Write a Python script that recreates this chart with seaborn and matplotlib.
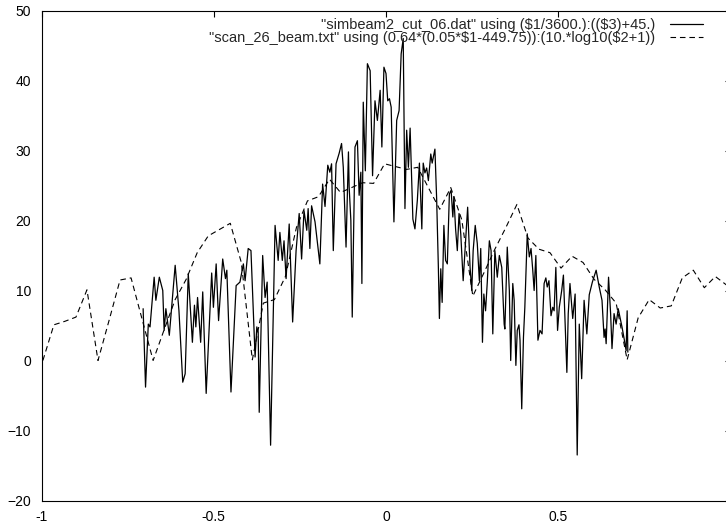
import numpy as np
import pandas as pd
import matplotlib
matplotlib.use("Agg")
import matplotlib.pyplot as plt
import seaborn as sns

# simulated beam cut (degrees, dB)
sim_x = [-0.705, -0.698, -0.690, -0.685, -0.673, -0.668, -0.658, -0.648, -0.644, -0.639,
         -0.629, -0.612, -0.601, -0.590, -0.583, -0.574, -0.562, -0.556, -0.552, -0.547,
         -0.538, -0.532, -0.522, -0.506, -0.501, -0.493, -0.486, -0.474, -0.466, -0.462,
         -0.450, -0.435, -0.424, -0.414, -0.409, -0.400, -0.392, -0.380, -0.375, -0.371,
         -0.368, -0.358, -0.351, -0.345, -0.335, -0.322, -0.313, -0.308, -0.301, -0.296,
         -0.290, -0.281, -0.271, -0.261, -0.252, -0.245, -0.238, -0.230, -0.226, -0.221,
         -0.216, -0.206, -0.192, -0.184, -0.177, -0.169, -0.163, -0.158, -0.153, -0.145,
         -0.136, -0.129, -0.124, -0.116, -0.109, -0.107, -0.102, -0.098, -0.090, -0.083,
         -0.078, -0.073, -0.070, -0.066, -0.060, -0.054, -0.046, -0.039, -0.032, -0.025,
         -0.017, -0.012, -0.006, 0.000, 0.005, 0.010, 0.015, 0.023, 0.031, 0.038,
         0.044, 0.050, 0.055, 0.060, 0.065, 0.070, 0.078, 0.084, 0.091, 0.097,
         0.104, 0.108, 0.113, 0.118, 0.123, 0.130, 0.134, 0.142, 0.147, 0.152,
         0.155, 0.159, 0.163, 0.168, 0.173, 0.178, 0.184, 0.189, 0.194, 0.197,
         0.202, 0.207, 0.212, 0.217, 0.224, 0.231, 0.237, 0.244, 0.249, 0.253,
         0.259, 0.265, 0.271, 0.275, 0.280, 0.284, 0.289, 0.294, 0.300, 0.305,
         0.310, 0.316, 0.323, 0.329, 0.336, 0.343, 0.345, 0.352, 0.358, 0.362,
         0.368, 0.372, 0.377, 0.381, 0.386, 0.389, 0.394, 0.399, 0.403, 0.410,
         0.416, 0.421, 0.426, 0.430, 0.435, 0.441, 0.447, 0.453, 0.459, 0.464,
         0.468, 0.473, 0.479, 0.484, 0.488, 0.493, 0.498, 0.503, 0.510, 0.515,
         0.520, 0.525, 0.529, 0.534, 0.542, 0.549, 0.555, 0.561, 0.568, 0.575,
         0.583, 0.590, 0.599, 0.610, 0.619, 0.627, 0.633, 0.636, 0.639, 0.646,
         0.652, 0.656, 0.662, 0.668, 0.674, 0.679, 0.685, 0.692, 0.697, 0.700,
         0.702]
sim_y = [7.4, -3.8, 5.2, 4.8, 11.9, 8.6, 11.9, 10.0, 4.3, 7.4,
         3.6, 13.6, 7.1, -3.1, -1.9, 12.4, 2.6, 7.9, 4.8, 9.0,
         2.6, 9.8, -4.7, 12.5, 7.6, 13.8, 5.7, 14.5, 11.7, 12.9,
         -4.5, 10.7, 11.2, 13.8, 11.4, 16.0, 15.7, 0.5, 4.8, 4.0,
         -7.4, 15.0, 9.0, 11.2, -12.1, 19.3, 14.3, 18.3, 14.3, 17.1,
         11.7, 19.5, 5.5, 15.7, 21.0, 14.5, 21.4, 18.6, 21.7, 16.0,
         22.1, 19.8, 13.8, 25.2, 22.0, 27.9, 26.9, 28.1, 15.7, 28.1,
         29.6, 31.0, 27.6, 16.2, 29.8, 24.8, 20.0, 6.2, 30.5, 31.4,
         23.6, 26.9, 11.0, 36.9, 27.1, 42.4, 41.4, 26.4, 37.1, 34.3,
         38.6, 30.5, 41.9, 41.0, 37.1, 37.4, 36.2, 19.8, 34.3, 35.7,
         43.8, 46.0, 21.7, 32.9, 27.6, 33.2, 20.2, 18.8, 22.9, 28.2,
         18.8, 28.2, 26.8, 27.5, 25.7, 29.5, 28.2, 30.2, 23.1, 13.3,
         6.0, 13.1, 8.3, 19.3, 14.3, 13.8, 23.8, 24.3, 20.5, 23.4,
         18.8, 15.7, 21.0, 18.1, 11.4, 17.1, 21.9, 13.3, 10.0, 15.7,
         19.3, 16.7, 11.4, 16.0, 2.6, 9.5, 7.1, 11.2, 17.1, 15.7,
         3.8, 15.7, 11.9, 15.0, 13.3, 5.2, 4.5, 16.2, 10.0, 0.0,
         11.0, 8.6, -0.7, 4.3, 5.1, 2.9, -6.9, 3.3, 7.6, 18.1,
         14.8, 16.0, 12.9, 10.0, 15.0, 2.9, 4.3, 3.8, 11.0, 11.8,
         10.5, 11.4, 6.4, 7.6, 7.1, 13.3, 4.3, 7.6, 10.0, 12.2,
         5.2, -1.7, 6.7, 11.0, 6.0, 9.5, -13.5, 5.2, -2.6, 8.6,
         3.8, 9.4, 11.2, 12.9, 10.5, 8.6, 3.3, 4.5, 2.4, 11.9,
         6.7, 1.7, 6.7, 5.2, 7.4, 6.2, 4.8, 2.9, 1.4, 7.1,
         1.2]

# measured scan (degrees, dB)
scan_x = [-0.996, -0.964, -0.932, -0.900, -0.868, -0.836, -0.804, -0.772, -0.740, -0.708,
          -0.676, -0.644, -0.612, -0.580, -0.548, -0.516, -0.484, -0.452, -0.420, -0.388,
          -0.356, -0.324, -0.292, -0.260, -0.228, -0.196, -0.164, -0.132, -0.100, -0.068,
          -0.036, -0.004, 0.028, 0.060, 0.092, 0.124, 0.156, 0.188, 0.220, 0.252,
          0.284, 0.316, 0.348, 0.380, 0.412, 0.444, 0.476, 0.508, 0.540, 0.572,
          0.604, 0.636, 0.668, 0.700, 0.732, 0.764, 0.796, 0.828, 0.860, 0.892,
          0.924, 0.956, 0.988]
scan_y = [0.0, 5.1, 5.6, 6.2, 10.1, 0.0, 5.7, 11.5, 11.8, 5.9,
          0.0, 4.4, 8.7, 11.6, 15.4, 17.8, 18.7, 19.6, 14.0, 0.1,
          8.2, 8.7, 12.0, 19.0, 22.8, 23.4, 25.9, 24.0, 24.7, 25.4,
          25.3, 28.1, 27.7, 27.3, 27.6, 24.6, 21.6, 24.7, 20.1, 9.2,
          12.5, 15.9, 19.0, 22.3, 17.5, 15.9, 15.4, 13.2, 14.9, 14.0,
          11.6, 10.1, 8.2, 0.1, 6.1, 8.7, 7.5, 7.8, 11.8, 12.9,
          10.4, 12.0, 10.8]

x_ticks = [-1, -0.5, 0, 0.5, 1]
x_ticklabels = ["-1", "-0.5", "0", "0.5", ""]  # "1" falls outside the cropped image
y_ticks = [-20, -10, 0, 10, 20, 30, 40, 50]

sim_label = '"simbeam2_cut_06.dat" using (\\$1/3600.):((\\$3)+45.)'
scan_label = '"scan_26_beam.txt" using (0.64*(0.05*\\$1-449.75)):(10.*log10(\\$2+1))'

sim = pd.DataFrame({"x": sim_x, "y": sim_y})
scan = pd.DataFrame({"x": scan_x, "y": scan_y})

sns.set_style("white")
plt.rcParams["font.family"] = ["Liberation Sans", "DejaVu Sans"]
plt.rcParams["font.size"] = 10

fig = plt.figure(figsize=(7.26, 5.24), dpi=100)
# right spine sits just past the image edge, as in the reference
ax = fig.add_axes([41.5 / 726, 23.5 / 524, 689 / 726, 490 / 524])

sns.lineplot(data=sim, x="x", y="y", ax=ax, color="black", lw=0.9,
             estimator=None, sort=False, label=sim_label)
sns.lineplot(data=scan, x="x", y="y", ax=ax, color="black", lw=0.8,
             estimator=None, sort=False, label=scan_label)
ax.lines[1].set_dashes((5, 3.5))

ax.set_xlim(-1, 1)
ax.set_ylim(-20, 50)
ax.set_xticks(x_ticks)
ax.set_xticklabels(x_ticklabels)
ax.set_yticks(y_ticks)
ax.set_xlabel("")
ax.set_ylabel("")
ax.tick_params(direction="in", length=4, width=0.8, top=True, right=True,
               colors="black", labelsize=10)
ax.tick_params(axis="x", pad=6.5)
ax.tick_params(axis="y", pad=7.5)
for s in ax.spines.values():
    s.set_color("black")
    s.set_linewidth(0.8)

leg = ax.legend(loc="upper right", bbox_to_anchor=(0.970, 0.999), frameon=False,
                markerfirst=False, borderpad=0, handlelength=2.26,
                handletextpad=1.0, labelspacing=-0.1, fontsize=10.5)
leg.get_lines()[1].set_dashes((5, 3.5))

fig.savefig("out.png", dpi=100)
